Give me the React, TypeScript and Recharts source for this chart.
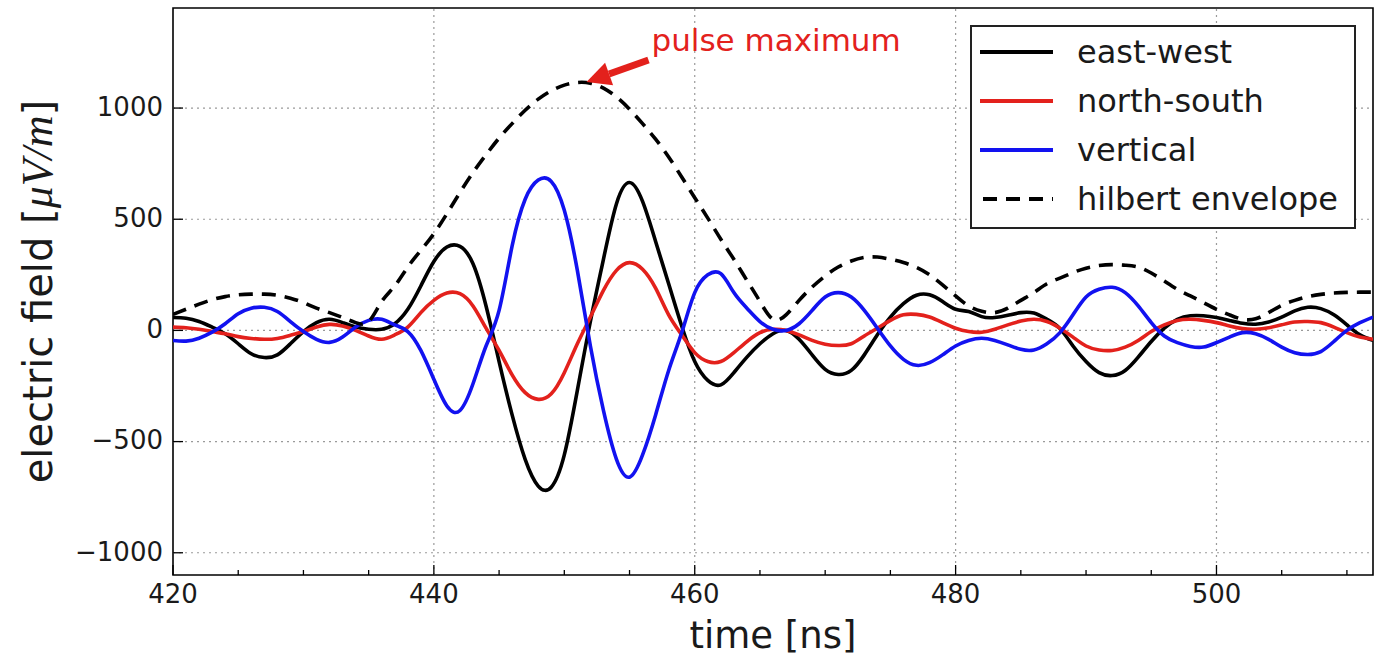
import React from 'react';
import { ComposedChart, Line, XAxis, YAxis, ReferenceLine, ReferenceArea, ReferenceDot, Legend } from 'recharts';

const TIME = [420, 421, 422, 423, 424, 425, 426, 427, 428, 429, 430, 431, 432, 433, 434, 435, 436, 437, 438, 439, 440, 441, 442, 443, 444, 445, 446, 447, 448, 449, 450, 451, 452, 453, 454, 455, 456, 457, 458, 459, 460, 461, 462, 463, 464, 465, 466, 467, 468, 469, 470, 471, 472, 473, 474, 475, 476, 477, 478, 479, 480, 481, 482, 483, 484, 485, 486, 487, 488, 489, 490, 491, 492, 493, 494, 495, 496, 497, 498, 499, 500, 501, 502, 503, 504, 505, 506, 507, 508, 509, 510, 511, 512];

const EAST_WEST = [58, 55, 40, 15, -15, -60, -105, -122, -110, -60, -5, 35, 50, 35, 15, 5, 5, 30, 95, 200, 310, 375, 378, 300, 110, -140, -380, -580, -700, -705, -560, -270, 40, 320, 570, 665, 580, 400, 210, 20, -140, -225, -245, -190, -120, -60, -15, 0, -40, -110, -175, -198, -180, -110, -20, 60, 120, 158, 160, 130, 95, 85, 62, 58, 68, 80, 78, 50, 8, -70, -140, -190, -203, -180, -120, -50, 10, 50, 66, 66, 58, 45, 32, 28, 38, 60, 88, 104, 98, 70, 25, -20, -45];

const NORTH_SOUTH = [15, 12, 5, -5, -15, -28, -36, -40, -36, -22, -5, 15, 27, 20, 0, -25, -40, -20, 15, 80, 135, 168, 165, 110, 10, -90, -200, -280, -310, -285, -190, -60, 60, 180, 270, 305, 275, 190, 70, -20, -100, -140, -140, -100, -50, -10, 5, 0, -20, -45, -62, -68, -60, -25, 10, 45, 70, 72, 60, 35, 10, -5, -8, 5, 25, 42, 50, 40, 10, -30, -70, -88, -90, -75, -45, -5, 25, 45, 50, 45, 35, 20, 8, 5, 12, 25, 38, 40, 35, 15, -10, -30, -40];

const VERTICAL = [-45, -48, -35, -8, 30, 75, 100, 104, 85, 40, -5, -40, -54, -30, 15, 45, 50, 25, -5, -90, -220, -340, -360, -240, -70, 90, 380, 590, 676, 670, 540, 270, -70, -360, -580, -660, -560, -380, -180, -10, 170, 250, 255, 170, 100, 40, 5, 0, 30, 90, 150, 170, 150, 90, 10, -70, -130, -157, -145, -110, -70, -45, -35, -45, -65, -85, -88, -60, -10, 70, 150, 185, 194, 170, 110, 35, -25, -55, -72, -75, -55, -30, -10, -15, -40, -75, -100, -108, -95, -50, 0, 35, 60];

const HILBERT = [72, 95, 118, 138, 152, 160, 163, 163, 158, 145, 125, 100, 80, 58, 35, 40, 130, 200, 285, 360, 435, 525, 620, 710, 790, 865, 930, 990, 1040, 1078, 1103, 1115, 1112, 1090, 1050, 995, 930, 860, 780, 690, 597, 505, 410, 320, 225, 130, 50, 70, 135, 195, 245, 285, 312, 328, 330, 320, 305, 283, 250, 205, 155, 110, 86, 80, 100, 135, 170, 210, 235, 260, 280, 292, 296, 293, 285, 258, 222, 185, 155, 125, 95, 70, 50, 52, 80, 113, 135, 152, 162, 168, 171, 172, 172];

const X_TICKS = [420, 425, 430, 435, 440, 445, 450, 455, 460, 465, 470, 475, 480, 485, 490, 495, 500, 505, 510];
const X_MAJOR = [420, 440, 460, 480, 500];
const Y_TICKS = [-1000, -500, 0, 500, 1000];
const X_GRID = [440, 460, 480, 500];
const X_DOMAIN = [420, 512];
const Y_DOMAIN = [-1100, 1450];

const ANNOTATION_TEXT = 'pulse maximum';
const ANNOTATION_T = 451.7;
const ANNOTATION_V = 1117;

const SERIES = [
  { key: 'ew', name: 'east-west', color: '#000000', dash: undefined as string | undefined },
  { key: 'ns', name: 'north-south', color: '#e3211c', dash: undefined as string | undefined },
  { key: 'v', name: 'vertical', color: '#1212f0', dash: undefined as string | undefined },
  { key: 'env', name: 'hilbert envelope', color: '#000000', dash: '14 9' },
];

const data = TIME.map((t, i) => ({
  t,
  ew: EAST_WEST[i],
  ns: NORTH_SOUTH[i],
  v: VERTICAL[i],
  env: HILBERT[i],
}));

const FONT = 'DejaVu Sans, sans-serif';
const TEXT = '#1a1a1a';

const fmt = (v: number) => (v < 0 ? '\u2212' + Math.abs(v) : String(v));

const XTickBottom = (props: any) => {
  const { x, y, payload } = props;
  const major = X_MAJOR.includes(payload.value);
  return (
    <g>
      <line x1={x} x2={x} y1={y} y2={y - (major ? 10 : 5)} stroke="#000" strokeWidth={1.3} />
      {major && (
        <text x={x} y={y + 28} textAnchor="middle" fontSize={26} fontFamily={FONT} fill={TEXT}>
          {fmt(payload.value)}
        </text>
      )}
    </g>
  );
};

const XTickTop = (props: any) => {
  const { x, y, payload } = props;
  const major = X_MAJOR.includes(payload.value);
  return <line x1={x} x2={x} y1={y} y2={y + (major ? 10 : 5)} stroke="#000" strokeWidth={1.3} />;
};

const YTickLeft = (props: any) => {
  const { x, y, payload } = props;
  return (
    <g>
      <line x1={x} x2={x + 10} y1={y} y2={y} stroke="#000" strokeWidth={1.3} />
      <text x={x - 10} y={y} dy="0.3em" textAnchor="end" fontSize={26} fontFamily={FONT} fill={TEXT}>
        {fmt(payload.value)}
      </text>
    </g>
  );
};

const YTickRight = (props: any) => {
  const { x, y } = props;
  return <line x1={x} x2={x - 10} y1={y} y2={y} stroke="#000" strokeWidth={1.3} />;
};

const YLabel = (props: any) => {
  const vb = props.viewBox || { x: 0, y: 8, width: 173, height: 567 };
  const cx = vb.x + 52;
  const cy = vb.y + vb.height / 2;
  return (
    <text
      x={cx}
      y={cy}
      transform={`rotate(-90 ${cx} ${cy})`}
      textAnchor="middle"
      fontSize={40}
      fontFamily={FONT}
      fill={TEXT}
    >
      <tspan>{'electric field ['}</tspan>
      <tspan fontFamily="Liberation Serif, serif" fontStyle="italic" fontSize={44}>{'\u03bcV/m'}</tspan>
      <tspan>{']'}</tspan>
    </text>
  );
};

const XLabel = (props: any) => {
  const vb = props.viewBox || { x: 173, y: 575, width: 1200, height: 83 };
  return (
    <text x={vb.x + vb.width / 2} y={vb.y + 73} textAnchor="middle" fontSize={37} fontFamily={FONT} fill={TEXT}>
      time [ns]
    </text>
  );
};

const AnnotationShape = (props: any) => {
  const { cx, cy } = props;
  if (cx == null || cy == null) return null;
  const tailX = cx + 62;
  const tailY = cy - 22;
  const dx = cx - tailX;
  const dy = cy - tailY;
  const len = Math.sqrt(dx * dx + dy * dy);
  const ux = dx / len;
  const uy = dy / len;
  const headLen = 24;
  const headHalf = 12;
  const bx = cx - ux * headLen;
  const by = cy - uy * headLen;
  const nx = -uy;
  const ny = ux;
  const color = '#e3211c';
  return (
    <g>
      <line x1={tailX} y1={tailY} x2={bx} y2={by} stroke={color} strokeWidth={7} />
      <polygon
        points={`${cx},${cy} ${bx + nx * headHalf},${by + ny * headHalf} ${bx - nx * headHalf},${by - ny * headHalf}`}
        fill={color}
      />
      <text x={cx + 65} y={cy - 31} fontSize={31} fontFamily={FONT} fill={color}>
        {ANNOTATION_TEXT}
      </text>
    </g>
  );
};

const LegendContent = (props: any) => {
  const payload: any[] = props.payload || [];
  const ordered = SERIES.filter((s) => payload.length === 0 || payload.some((p: any) => p.dataKey === s.key));
  return (
    <svg width={386} height={204} style={{ display: 'block' }}>
      <rect x={1} y={1} width={384} height={202} fill="#fff" stroke="#222" strokeWidth={2} />
      {ordered.map((s, i) => {
        const cy = 27 + i * 49;
        return (
          <g key={s.key}>
            <line
              x1={s.dash ? 13 : 10}
              x2={83}
              y1={cy}
              y2={cy}
              stroke={s.color}
              strokeWidth={4}
              strokeDasharray={s.dash}
            />
            <text x={107} y={cy + 11} fontSize={32} fontFamily={FONT} fill={TEXT}>
              {s.name}
            </text>
          </g>
        );
      })}
    </svg>
  );
};

export default function App() {
  return (
    <div style={{ position: 'absolute', left: 0, top: 0, width: 1381, height: 658, background: '#fff' }}>
      <ComposedChart width={1381} height={658} data={data} margin={{ top: 8, right: 8, bottom: 0, left: 0 }}>
        <XAxis
          dataKey="t"
          type="number"
          domain={X_DOMAIN}
          ticks={X_TICKS}
          interval={0}
          allowDataOverflow
          height={83}
          tickSize={0}
          tickMargin={0}
          axisLine={false}
          tick={<XTickBottom />}
          label={<XLabel />}
        />
        <XAxis
          xAxisId="top"
          orientation="top"
          dataKey="t"
          type="number"
          domain={X_DOMAIN}
          ticks={X_TICKS}
          interval={0}
          allowDataOverflow
          height={0}
          tickSize={0}
          tickMargin={0}
          axisLine={false}
          tick={<XTickTop />}
        />
        <YAxis
          type="number"
          domain={Y_DOMAIN}
          ticks={Y_TICKS}
          interval={0}
          allowDataOverflow
          width={173}
          tickSize={0}
          tickMargin={0}
          axisLine={false}
          tick={<YTickLeft />}
          label={<YLabel />}
        />
        <YAxis
          yAxisId="right"
          orientation="right"
          type="number"
          domain={Y_DOMAIN}
          ticks={Y_TICKS}
          interval={0}
          allowDataOverflow
          width={0}
          tickSize={0}
          tickMargin={0}
          axisLine={false}
          tick={<YTickRight />}
        />
        {X_GRID.map((g) => (
          <ReferenceLine key={'gx' + g} x={g} stroke="#9a9a9a" strokeWidth={1.2} strokeDasharray="2 4" />
        ))}
        {Y_TICKS.map((g) => (
          <ReferenceLine key={'gy' + g} y={g} stroke="#9a9a9a" strokeWidth={1.2} strokeDasharray="2 4" />
        ))}
        {SERIES.map((s) => (
          <Line
            key={s.key}
            dataKey={s.key}
            name={s.name}
            type="natural"
            stroke={s.color}
            strokeWidth={3.6}
            strokeDasharray={s.dash}
            strokeLinejoin="round"
            dot={false}
            activeDot={false}
            isAnimationActive={false}
          />
        ))}
        <ReferenceArea
          x1={X_DOMAIN[0]}
          x2={X_DOMAIN[1]}
          y1={Y_DOMAIN[0]}
          y2={Y_DOMAIN[1]}
          fill="none"
          fillOpacity={0}
          stroke="#000"
          strokeWidth={1.6}
          strokeOpacity={1}
        />
        <ReferenceDot x={ANNOTATION_T} y={ANNOTATION_V} r={0} shape={AnnotationShape} />
        <Legend
          layout="vertical"
          align="center"
          verticalAlign="middle"
          content={LegendContent}
          wrapperStyle={{ position: 'absolute', left: 970, top: 25, width: 386, height: 204 }}
        />
      </ComposedChart>
    </div>
  );
}
